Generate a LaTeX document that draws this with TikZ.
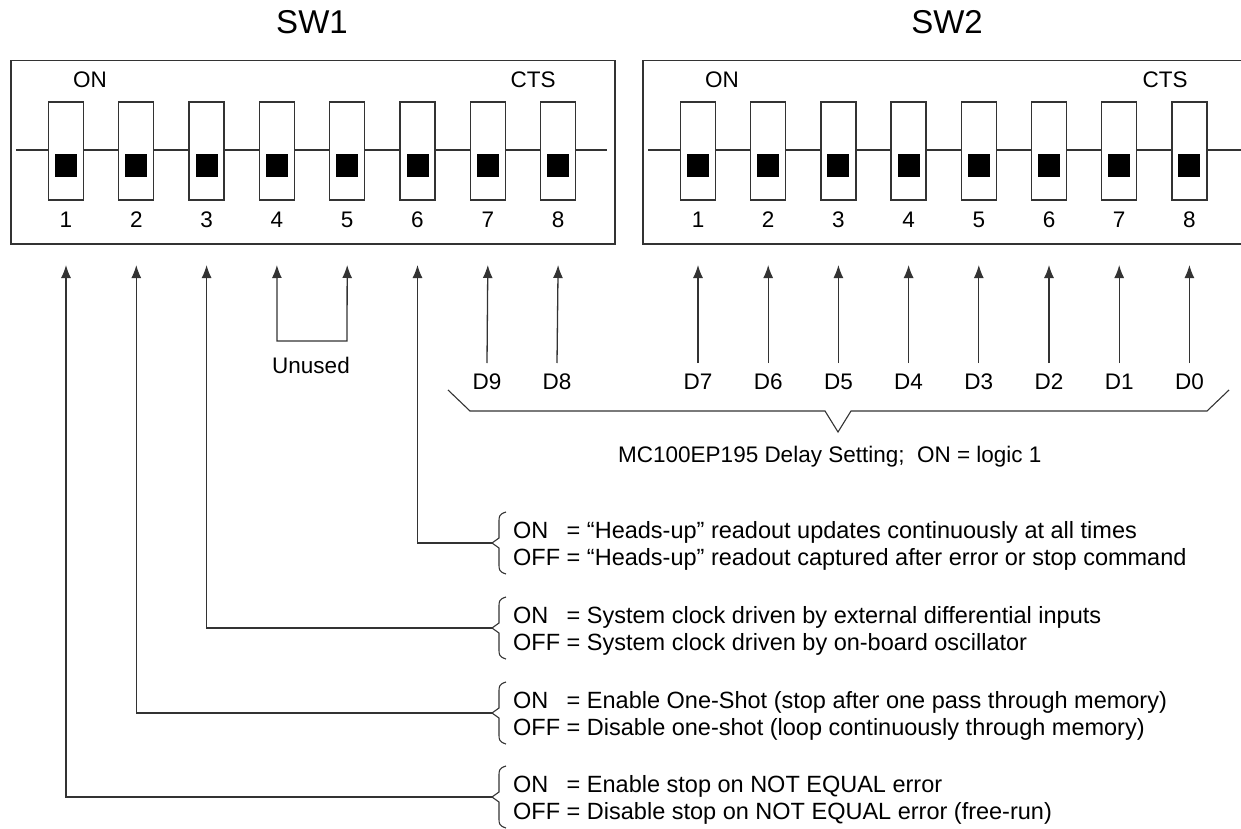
\documentclass[tikz,border=0pt]{standalone}
\usepackage{fontspec}
\setmainfont{Liberation Sans}
\usetikzlibrary{arrows.meta}
\definecolor{ln}{HTML}{333333}
\begin{document}
\begin{tikzpicture}[x=1pt,y=-1pt,
  lbl/.style={font=\fontsize{22.5}{26}\selectfont, inner sep=0pt, text=black},
  desc/.style={font=\fontsize{23.5}{27}\selectfont, inner sep=0pt, anchor=base west, text=black},
  ttl/.style={font=\fontsize{33}{38}\selectfont, inner sep=0pt},
  frame/.style={draw=ln, line width=1.5pt, minimum height=183pt, inner sep=0pt, anchor=north west},
  swbox/.style={draw=ln, line width=1.3pt, fill=white, minimum width=35pt, minimum height=98pt, inner sep=0pt},
  knob/.style={fill=black, minimum width=22pt, minimum height=23pt, inner sep=0pt},
  conn/.style={draw=ln, line width=1.3pt},
  arr/.style={conn, -{Latex[length=13pt,width=10pt]}},
  brc/.style={draw=ln, line width=1.1pt},
]
\useasboundingbox (0,0) rectangle (1241,829);
\clip (0,0) rectangle (1241,829);

% titles
\node[ttl] (sw1t) at (312,22) {SW1};
\node[ttl] (sw2t) at (947,22) {SW2};

% frames
\node[frame, minimum width=604pt] (box1) at (10,60) {};
\node[frame, minimum width=610pt] (box2) at (642,60) {};

\node[lbl] (on1) at (90,80) {ON};
\node[lbl] (cts1) at (533,80) {CTS};
\node[lbl] (on2) at (722,80) {ON};
\node[lbl] (cts2) at (1165,80) {CTS};

% switch rails
\coordinate (r1a) at (16,150); \coordinate (r1b) at (607,150);
\coordinate (r2a) at (648,150); \coordinate (r2b) at (1245,150);
\draw[conn] (r1a) -- (r1b);
\draw[conn] (r2a) -- (r2b);

% SW1 switches
\foreach \i in {1,...,8} {
  \pgfmathsetmacro\xx{66+70.3*(\i-1)}
  \node[swbox] (a\i) at (\xx,151) {};
  \node[knob] (ak\i) at (\xx,165.5) {};
  \node[lbl] (an\i) at (\xx,220) {\i};
  \coordinate (t\i) at (\xx,265);
}
% SW2 switches
\foreach \i in {1,...,8} {
  \pgfmathsetmacro\xx{698+70.2*(\i-1)}
  \node[swbox] (b\i) at (\xx,151) {};
  \node[knob] (bk\i) at (\xx,165.5) {};
  \node[lbl] (bn\i) at (\xx,220) {\i};
  \coordinate (s\i) at (\xx,265);
}

% unused
\coordinate (u4) at (277,341); \coordinate (u5) at (347,341);
\draw[conn, {Latex[length=13pt,width=10pt]}-{Latex[length=13pt,width=10pt]}] (t4) -- (u4) -- (u5) -- (t5);
\node[lbl] (unused) at (311,365) {Unused};

% data bits
\node[lbl] (d9) at (487,382) {D9};
\node[lbl] (d8) at (557,382) {D8};
\coordinate (d9s) at (487,363); \coordinate (d8s) at (557,363);
\draw[arr] (d9s) -- (t7);
\draw[arr] (d8s) -- (t8);
\foreach \i/\d in {1/7,2/6,3/5,4/4,5/3,6/2,7/1,8/0} {
  \pgfmathsetmacro\xx{698+70.2*(\i-1)}
  \node[lbl] (dd\d) at (\xx,382) {D\d};
  \coordinate (ds\d) at (\xx,363);
  \draw[arr] (ds\d) -- (s\i);
}

% delay brace
\draw[brc] (448,390) -- (470,411) -- (825,411) -- (838,432) -- (851,411) -- (1207,411) -- (1229,390);
\node[lbl, anchor=west] (delay) at (618,457) {MC100EP195 Delay Setting;\ \ ON = logic 1};

% option braces
\foreach \t in {543,628,713,797} {
  \draw[brc] (506,\t-31) .. controls (499,\t-29) and (499,\t-26) .. (499,\t-22) -- (499,\t-5) -- (492,\t) -- (499,\t+5) -- (499,\t+22) .. controls (499,\t+26) and (499,\t+29) .. (506,\t+31);
}
\coordinate (c6) at (492,543);
\coordinate (c3) at (492,628);
\coordinate (c2) at (492,713);
\coordinate (c1) at (492,797);
\draw[arr] (c6) -| (t6);
\draw[arr] (c3) -| (t3);
\draw[arr] (c2) -| (t2);
\draw[arr] (c1) -| (t1);

\node[desc] (o6a) at (513,538) {\rlap{ON}\phantom{OFF} = “Heads-up” readout updates continuously at all times};
\node[desc] (o6b) at (513,565) {OFF = “Heads-up” readout captured after error or stop command};
\node[desc] (o3a) at (513,623) {\rlap{ON}\phantom{OFF} = System clock driven by external differential inputs};
\node[desc] (o3b) at (513,650) {OFF = System clock driven by on-board oscillator};
\node[desc] (o2a) at (513,708) {\rlap{ON}\phantom{OFF} = Enable One-Shot (stop after one pass through memory)};
\node[desc] (o2b) at (513,735) {OFF = Disable one-shot (loop continuously through memory)};
\node[desc] (o1a) at (513,792) {\rlap{ON}\phantom{OFF} = Enable stop on NOT EQUAL error};
\node[desc] (o1b) at (513,819) {OFF = Disable stop on NOT EQUAL error (free-run)};
\end{tikzpicture}
\end{document}
